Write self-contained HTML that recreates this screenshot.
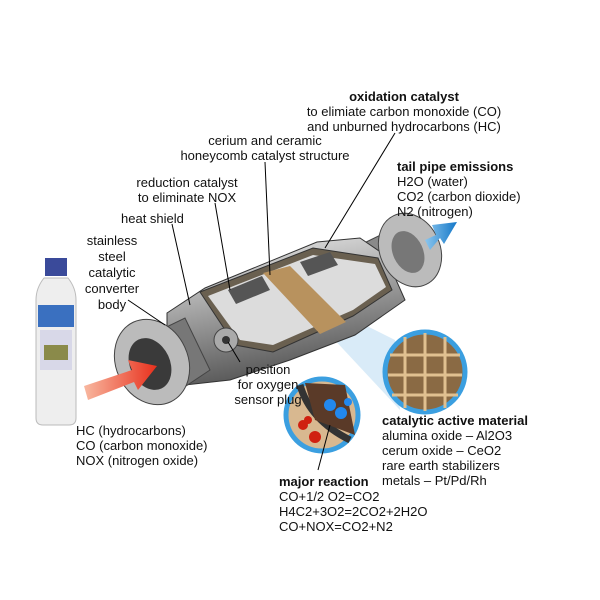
<!DOCTYPE html>
<html><head><style>
body{margin:0;width:600px;height:600px;background:#fff;overflow:hidden;position:relative;font-family:"Liberation Sans","DejaVu Sans",sans-serif;font-size:13px;color:#111}
.t{position:absolute;line-height:15px;white-space:nowrap}
.c{text-align:center}
b{font-weight:bold}
</style></head><body>
<svg width="600" height="600" style="position:absolute;left:0;top:0">
<defs>
<linearGradient id="m" x1="0" y1="0" x2="0.3" y2="1"><stop offset="0" stop-color="#f2f2f2"/><stop offset="0.45" stop-color="#aaa"/><stop offset="1" stop-color="#555"/></linearGradient>
<linearGradient id="bl" x1="0" x2="1"><stop offset="0" stop-color="#8cc6ee"/><stop offset="1" stop-color="#1478c8"/></linearGradient>
<linearGradient id="rd" x1="0" x2="1"><stop offset="0" stop-color="#f8b8a0"/><stop offset="1" stop-color="#e8301c"/></linearGradient>
</defs>
<!-- light cone -->
<polygon points="335,310 395,340 400,410 330,335" fill="#cfe6f6" opacity="0.8"/>
<!-- outlet pipe -->
<polygon points="360,245 395,228 410,270 385,285" fill="#8a8a8a" stroke="#444"/>
<!-- body -->
<polygon points="167,313 205,288 317,242 360,238 385,255 405,300 355,335 290,360 230,380 185,385 167,373" fill="url(#m)" stroke="#333"/>
<polygon points="200,292 313,248 378,258 392,290 353,316 273,352 235,345" fill="#6a6050" stroke="#333"/>
<polygon points="208,296 313,255 375,264 386,287 353,310 273,345 240,340" fill="#dcdcdc"/>
<polygon points="263,273 290,266 346,322 320,334" fill="#b8925e"/>
<polygon points="228,290 262,276 270,290 236,304" fill="#555"/>
<polygon points="300,262 330,252 338,265 308,276" fill="#555"/>
<!-- inlet pipe -->
<polygon points="150,335 185,318 210,370 180,390" fill="#777" stroke="#444"/>
<!-- flanges -->
<ellipse cx="152" cy="362" rx="36" ry="44" fill="#bbb" stroke="#444" transform="rotate(-25 152 362)"/>
<ellipse cx="150" cy="364" rx="20" ry="27" fill="#3a3a3a" transform="rotate(-25 150 364)"/>
<ellipse cx="410" cy="250" rx="30" ry="38" fill="#bbb" stroke="#444" transform="rotate(-25 410 250)"/>
<ellipse cx="408" cy="252" rx="15" ry="22" fill="#777" transform="rotate(-25 408 252)"/>
<circle cx="226" cy="340" r="12" fill="#aaa" stroke="#444"/><circle cx="226" cy="340" r="4" fill="#333"/>
<!-- arrows on top -->
<polygon points="425,240 436,235 432,225 457,222 444,244 440,238 430,250" fill="url(#bl)"/>
<polygon points="84,386 132,370 128,360 157,366 138,390 134,382 88,400" fill="url(#rd)"/>
<!-- circles -->
<circle cx="425" cy="372" r="40" fill="#8a6a44" stroke="#3b9fe0" stroke-width="5"/>
<g stroke="#e0c090" stroke-width="3">
<line x1="390" y1="355" x2="460" y2="355"/><line x1="388" y1="375" x2="462" y2="375"/><line x1="392" y1="395" x2="458" y2="395"/>
<line x1="405" y1="337" x2="405" y2="408"/><line x1="425" y1="333" x2="425" y2="411"/><line x1="445" y1="337" x2="445" y2="408"/></g>
<circle cx="322" cy="415" r="36" fill="#d8b890" stroke="#3b9fe0" stroke-width="5"/>
<path d="M300,385 Q310,420 350,440" stroke="#333" stroke-width="7" fill="none"/>
<polygon points="305,383 345,385 355,435 315,420" fill="#5a3a28"/>
<circle cx="330" cy="405" r="6" fill="#2288ee"/><circle cx="341" cy="413" r="6" fill="#2288ee"/><circle cx="348" cy="402" r="4" fill="#2288ee"/>
<circle cx="303" cy="425" r="5" fill="#d02010"/><circle cx="315" cy="437" r="6" fill="#d02010"/><circle cx="308" cy="420" r="4" fill="#d02010"/>
<!-- bottle -->
<rect x="45" y="258" width="22" height="18" fill="#3a4a9a"/>
<path d="M44,278 Q36,288 36,300 L36,418 Q36,425 43,425 L69,425 Q76,425 76,418 L76,300 Q76,288 68,278 Z" fill="#eee" stroke="#bbb"/>
<rect x="38" y="305" width="36" height="22" fill="#3a70c0"/>
<rect x="40" y="330" width="32" height="40" fill="#d8d8e8"/>
<rect x="44" y="345" width="24" height="15" fill="#8a8a4a"/>
<!-- leader lines -->
<g stroke="#000" stroke-width="1" fill="none">
<line x1="395" y1="133" x2="325" y2="248"/>
<line x1="265" y1="162" x2="270" y2="275"/>
<line x1="215" y1="203" x2="230" y2="290"/>
<line x1="172" y1="224" x2="190" y2="305"/>
<line x1="128" y1="300" x2="165" y2="325"/>
<line x1="228" y1="342" x2="240" y2="362"/>
<line x1="330" y1="425" x2="318" y2="470"/>
</g>
</svg>
<div class="t c" style="left:294px;top:89px;width:220px"><b>oxidation catalyst</b><br>to elimiate carbon monoxide (CO)<br>and unburned hydrocarbons (HC)</div>
<div class="t c" style="left:175px;top:133px;width:180px">cerium and ceramic<br>honeycomb catalyst structure</div>
<div class="t c" style="left:117px;top:175px;width:140px">reduction catalyst<br>to eliminate NOX</div>
<div class="t" style="left:121px;top:211px">heat shield</div>
<div class="t c" style="left:68px;top:233px;width:88px;line-height:16px">stainless<br>steel<br>catalytic<br>converter<br>body</div>
<div class="t" style="left:397px;top:159px"><b>tail pipe emissions</b><br>H2O (water)<br>CO2 (carbon dioxide)<br>N2 (nitrogen)</div>
<div class="t c" style="left:213px;top:362px;width:110px">position<br>for oxygen<br>sensor plug</div>
<div class="t" style="left:76px;top:423px">HC (hydrocarbons)<br>CO (carbon monoxide)<br>NOX (nitrogen oxide)</div>
<div class="t" style="left:382px;top:413px"><b>catalytic active material</b><br>alumina oxide – Al2O3<br>cerum oxide – CeO2<br>rare earth stabilizers<br>metals – Pt/Pd/Rh</div>
<div class="t" style="left:279px;top:474px"><b>major reaction</b><br>CO+1/2 O2=CO2<br>H4C2+3O2=2CO2+2H2O<br>CO+NOX=CO2+N2</div>
</body></html>
